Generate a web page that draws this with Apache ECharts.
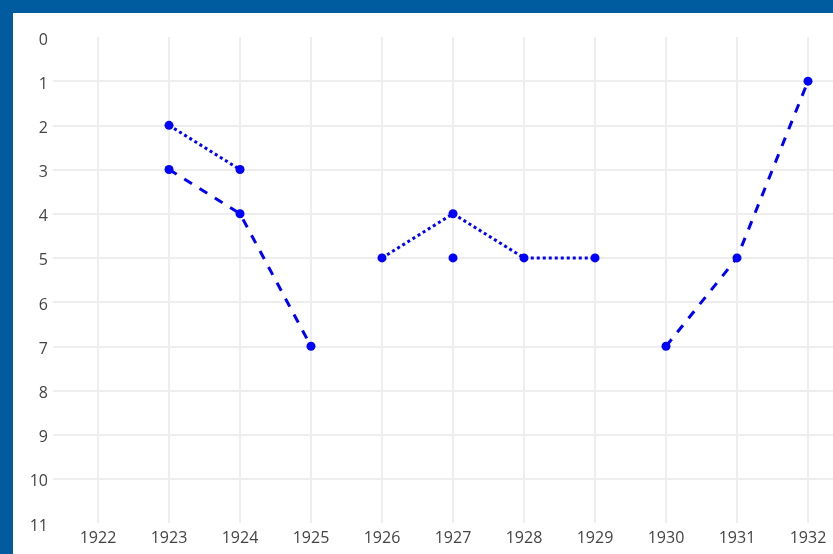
<!DOCTYPE html>
<html>
<head>
    <meta charset="utf-8">
    <title>Ranking chart</title>
    <script src="https://cdn.jsdelivr.net/npm/echarts@6/dist/echarts.min.js"></script>
    <style>
        html, body { margin: 0; padding: 0; }
        body { background: #005b9f; width: 833px; height: 554px; overflow: hidden; position: relative; }
        #chart { position: absolute; left: 13px; top: 13px; width: 820px; height: 541px; background: #fff; }
    </style>
</head>
<body>
<div id="chart"></div>
<script type="text/javascript">
    // tick labels
    var yearTicks = [1922, 1923, 1924, 1925, 1926, 1927, 1928, 1929, 1930, 1931, 1932];

    // dotted segments
    var dotYearsA = [1923, 1924];
    var dotRankA = [2, 3];
    var dotYearsB = [1926, 1927, 1928, 1929];
    var dotRankB = [5, 4, 5, 5];

    // dashed segments
    var dashYearsA = [1923, 1924, 1925];
    var dashRankA = [3, 4, 7];
    var dashYearsB = [1930, 1931, 1932];
    var dashRankB = [7, 5, 1];

    // lone marker
    var pointYears = [1927];
    var pointRank = [5];

    function pairs(xs, ys) {
        var out = [];
        for (var i = 0; i < xs.length; i++) out.push([xs[i], ys[i]]);
        return out;
    }

    function lineSeries(xs, ys, dash) {
        return {
            type: 'line',
            data: pairs(xs, ys),
            symbol: 'circle',
            symbolSize: 9,
            itemStyle: { color: '#0000ff', opacity: 1 },
            lineStyle: { color: '#0000ff', width: 3, type: dash },
            z: 3
        };
    }

    var chart = echarts.init(document.getElementById('chart'));
    chart.setOption({
        animation: false,
        textStyle: { fontFamily: 'Open Sans' },
        grid: { left: 40, top: 24, width: 790.5, height: 486, outerBoundsMode: 'none', containLabel: false },
        xAxis: {
            type: 'value',
            min: 1921.366,
            max: 1932.5,
            axisLine: { show: false },
            axisTick: { show: false, customValues: yearTicks },
            axisLabel: {
                customValues: yearTicks,
                color: '#444',
                fontSize: 16,
                margin: 7,
                formatter: function (v) { return String(v); }
            },
            splitLine: { show: true, lineStyle: { color: '#eeeeee', width: 2 } }
        },
        yAxis: {
            type: 'value',
            inverse: true,
            min: 0,
            max: 11,
            interval: 1,
            axisLine: { show: false },
            axisTick: { show: false },
            // small line box so the digits sit ~3px below the grid line
            axisLabel: { color: '#444', fontSize: 16, margin: 5, verticalAlign: 'top', lineHeight: 6 },
            splitLine: { show: true, showMinLine: false, showMaxLine: false, lineStyle: { color: '#eeeeee', width: 2 } }
        },
        series: [
            lineSeries(dotYearsA, dotRankA, [3, 3]),
            lineSeries(dashYearsA, dashRankA, [9, 9]),
            lineSeries(dotYearsB, dotRankB, [3, 3]),
            {
                type: 'scatter',
                data: pairs(pointYears, pointRank),
                symbol: 'circle',
                symbolSize: 9,
                itemStyle: { color: '#0000ff', opacity: 1 },
                z: 3
            },
            lineSeries(dashYearsB, dashRankB, [9, 9])
        ]
    });
</script>
</body>
</html>
